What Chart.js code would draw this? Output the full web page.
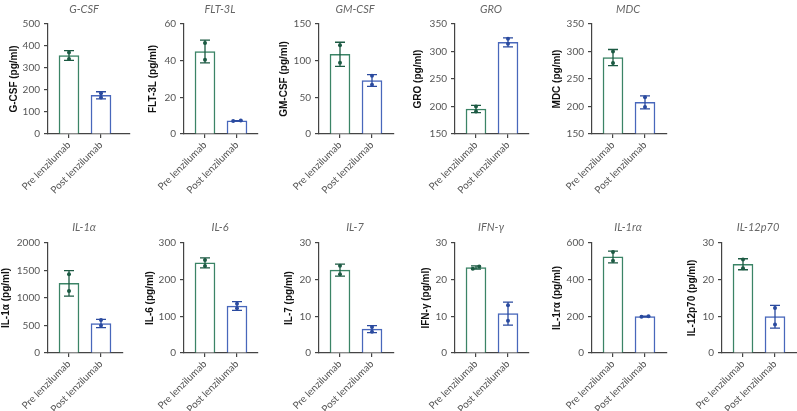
<!DOCTYPE html>
<html>
<head>
<meta charset="utf-8">
<script src="https://cdn.jsdelivr.net/npm/chart.js@4"></script>
<style>
  html, body { margin: 0; padding: 0; background: #fff; }
  body { width: 797px; height: 411px; position: relative; overflow: hidden; }
  .panel { position: absolute; }
</style>
</head>
<body>
<div id="wrap"></div>
<script>
// data
const panelNames = ['G-CSF', 'FLT-3L', 'GM-CSF', 'GRO', 'MDC', 'IL-1α', 'IL-6', 'IL-7', 'IFN-γ', 'IL-1rα', 'IL-12p70'];
const groups = ['Pre lenzilumab', 'Post lenzilumab'];

const preMean  = [357, 45, 108.6, 195.5, 289, 1265, 245.7, 22.6, 23.3, 524, 24.2];
const preSD    = [22, 6.2, 16.5, 6.5, 14.6, 232, 13.5, 1.65, 0.45, 32, 1.5];
const prePts   = [[371, 341], [49.6, 40.5], [121, 97], [200, 191], [300, 279], [1434, 1127], [253.8, 237.6], [23.8, 21.5], [23.0, 23.6], [551, 503], [25.5, 23.1]];
const postMean = [176, 7.2, 73, 316.7, 207.6, 536, 128, 6.5, 10.75, 199, 9.9];
const postSD   = [16, 0.1, 8, 8.2, 11.8, 75, 12, 0.95, 3.15, 1.5, 3.1];
const postPts  = [[185, 166], [7.1, 7.3], [79.5, 67.3], [323, 314], [216.7, 199], [602, 500], [134.6, 122], [7.1, 5.8], [13.0, 8.8], [198, 201], [12.3, 7.8]];
// horizontal spread of the two dots (category units)
const preJitter  = [0, 0, 0, 0, 0, 0, 0, 0, 0.1, 0, 0];
const postJitter = [0, 0.12, 0, 0, 0, 0, 0, 0, 0, 0.11, 0];

const yMin  = [0, 0, 0, 150, 150, 0, 0, 0, 0, 0, 0];
const yMax  = [500, 60, 150, 350, 350, 2000, 300, 30, 30, 600, 30];
const yStep = [100, 20, 50, 50, 50, 500, 100, 10, 10, 200, 10];

// layout of the small multiples
const axisX    = [48, 184, 319, 455, 592, 48, 184, 319, 455, 592, 722];
const plotW    = [82, 74, 75, 74, 75, 75, 74, 75, 74, 75, 75];
const rowTop   = [0, 0, 0, 0, 0, 219, 219, 219, 219, 219, 219];
const titleGap = [34, 31, 35, 37, 35, 42, 34, 30, 29, 35, 30];
const titleRise = [15, 15, 15, 15, 15, 16, 16, 16, 16, 16, 16];

const preLine = '#3b8466', postLine = '#4867bb';
const preDark = '#1c5a43', postDark = '#2a4a9f';
const PX_PER_CAT = 32, FIRST_OFF = 21;

const extras = {
  id: 'extras',
  afterDatasetDraw(chart, args, opts) {
    if (args.index !== 0) return;
    const {ctx, scales: {x, y}} = chart;
    ctx.save();
    ctx.lineWidth = 1.3;
    opts.err.forEach(e => {
      const px = x.getPixelForValue(e.x);
      const t = y.getPixelForValue(e.mean + e.sd);
      const b = y.getPixelForValue(e.mean - e.sd);
      ctx.strokeStyle = e.color;
      ctx.beginPath();
      ctx.moveTo(px, t); ctx.lineTo(px, b);
      ctx.moveTo(px - 5, t); ctx.lineTo(px + 5, t);
      ctx.moveTo(px - 5, b); ctx.lineTo(px + 5, b);
      ctx.stroke();
    });
    ctx.restore();
  },
  afterDraw(chart, args, opts) {
    const {ctx, chartArea} = chart;
    ctx.save();
    ctx.font = 'italic 11px Lato';
    ctx.fillStyle = '#666';
    ctx.textAlign = 'center';
    ctx.textBaseline = 'middle';
    ctx.fillText(opts.title, chartArea.left + 36, chartArea.top - opts.rise);
    ctx.restore();
  }
};

Chart.defaults.font.family = 'Lato';

const wrap = document.getElementById('wrap');

panelNames.forEach((name, i) => {
  const W = plotW[i];
  const div = document.createElement('div');
  div.className = 'panel';
  div.style.left = (axisX[i] - 48) + 'px';
  div.style.top = rowTop[i] + 'px';
  const cv = document.createElement('canvas');
  cv.width = 48 + W + 6;
  cv.height = 200;
  div.appendChild(cv);
  wrap.appendChild(div);

  const points = [
    {x: -preJitter[i], y: prePts[i][0]}, {x: preJitter[i], y: prePts[i][1]},
    {x: 1 - postJitter[i], y: postPts[i][0]}, {x: 1 + postJitter[i], y: postPts[i][1]}
  ];

  new Chart(cv.getContext('2d'), {
    type: 'bar',
    data: {
      datasets: [
        {
          type: 'bar',
          data: [{x: 0, y: preMean[i]}, {x: 1, y: postMean[i]}],
          backgroundColor: '#fff',
          borderColor: [preLine, postLine],
          borderWidth: 1.5,
          borderSkipped: 'bottom',
          barThickness: 20,
          base: yMin[i],
          order: 2
        },
        {
          type: 'scatter',
          data: points,
          pointRadius: 2,
          pointBorderWidth: 0,
          pointBackgroundColor: [preDark, preDark, postDark, postDark],
          order: 1
        }
      ]
    },
    options: {
      responsive: false,
      animation: false,
      layout: { padding: { top: 24, right: 6, left: 0, bottom: 0 } },
      plugins: {
        legend: { display: false },
        tooltip: { enabled: false },
        extras: {
          title: name,
          rise: titleRise[i],
          err: [
            {x: 0, mean: preMean[i], sd: preSD[i], color: preDark},
            {x: 1, mean: postMean[i], sd: postSD[i], color: postDark}
          ]
        }
      },
      scales: {
        x: {
          type: 'linear',
          offset: false,
          min: -FIRST_OFF / PX_PER_CAT,
          max: (W - FIRST_OFF) / PX_PER_CAT,
          afterBuildTicks: s => { s.ticks = [{value: 0}, {value: 1}]; },
          afterFit: s => { s.height = 66; },
          border: { color: '#444', width: 1.2 },
          grid: { display: true, offset: false, drawOnChartArea: false, drawTicks: true, tickLength: 4, color: '#444', lineWidth: 1.2 },
          ticks: {
            autoSkip: false,
            minRotation: 45,
            maxRotation: 45,
            padding: 1,
            color: '#555',
            font: { size: 10 },
            callback: v => groups[v]
          }
        },
        y: {
          min: yMin[i],
          max: yMax[i],
          afterFit: s => { s.width = 48; },
          border: { color: '#444', width: 1.2 },
          grid: { display: true, drawOnChartArea: false, drawTicks: true, tickLength: 4, color: '#444', lineWidth: 1.2 },
          ticks: { stepSize: yStep[i], color: '#555', padding: 4, font: { size: 10 }, callback: v => String(v) },
          title: {
            display: true,
            text: name + ' (pg/ml)',
            color: '#111',
            font: { family: 'Liberation Sans', weight: 'bold', size: 10 },
            padding: { top: 48 - titleGap[i] - 6, bottom: 0 }
          }
        }
      }
    },
    plugins: [extras]
  });
});
</script>
</body>
</html>
